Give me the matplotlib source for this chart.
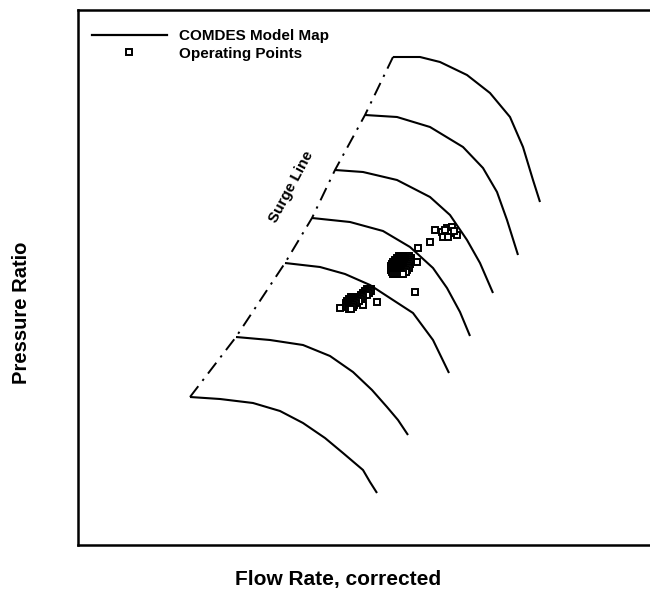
import matplotlib
matplotlib.use("Agg")
import matplotlib.pyplot as plt
from matplotlib.lines import Line2D

plt.rcParams["font.family"] = ["Liberation Sans", "DejaVu Sans"]
plt.rcParams["font.weight"] = "bold"

# speed lines of the compressor map (corrected flow, pressure ratio), arbitrary units
speed_1_flow = [190, 220, 253, 280, 303, 325, 343, 363, 370, 377]
speed_1_pr = [198, 196, 192, 184, 172, 157, 142, 125, 113, 102]
speed_2_flow = [236, 270, 303, 330, 353, 372, 387, 398, 408]
speed_2_pr = [258, 255, 250, 239, 223, 205, 188, 175, 160]
speed_3_flow = [285, 320, 345, 370, 393, 413, 433, 449]
speed_3_pr = [332, 328, 321, 310, 295, 282, 255, 222]
speed_4_flow = [312, 350, 383, 410, 433, 447, 460, 470]
speed_4_pr = [377, 373, 364, 348, 327, 307, 283, 259]
speed_5_flow = [335, 363, 397, 430, 450, 467, 480, 493]
speed_5_pr = [425, 423, 415, 398, 380, 355, 332, 302]
speed_6_flow = [365, 397, 430, 463, 483, 497, 507, 518]
speed_6_pr = [480, 478, 468, 448, 427, 403, 375, 340]
speed_7_flow = [393, 420, 440, 467, 490, 510, 523, 533, 540]
speed_7_pr = [538, 538, 533, 520, 502, 478, 448, 415, 393]

speed_lines = [
    (speed_1_flow, speed_1_pr),
    (speed_2_flow, speed_2_pr),
    (speed_3_flow, speed_3_pr),
    (speed_4_flow, speed_4_pr),
    (speed_5_flow, speed_5_pr),
    (speed_6_flow, speed_6_pr),
    (speed_7_flow, speed_7_pr),
]

# operating points: loose ones, plus the dense runs that overlap into solid patches
op_low_flow = [340, 363, 377]
op_low_pr = [287, 290, 293]
op_low_rows = [
    (306, [367, 369, 371]),
    (304, [365, 367, 369, 371]),
    (302, [363, 365, 367, 369]),
    (300, [361, 363, 365, 367]),
    (298, [351, 353, 355, 357, 359, 361, 363]),
    (296, [349, 351, 353, 355, 357, 359, 361]),
    (294, [347, 349, 351, 353, 355, 357, 359]),
    (292, [346, 348, 350, 352, 354, 356]),
    (290, [346, 348, 350, 352, 354]),
    (288, [347, 349, 351, 353]),
    (286, [349, 351]),
]

op_mid_flow = [418, 417, 415]
op_mid_pr = [347, 333, 303]
op_mid_rows = [
    (339, [399, 401, 403, 405, 407, 409]),
    (337, [397, 399, 401, 403, 405, 407, 409, 411]),
    (335, [395, 397, 399, 401, 403, 405, 407, 409, 411]),
    (333, [393, 395, 397, 399, 401, 403, 405, 407, 409, 411]),
    (331, [392, 394, 396, 398, 400, 402, 404, 406, 408, 410]),
    (329, [391, 393, 395, 397, 399, 401, 403, 405, 407, 409]),
    (327, [391, 393, 395, 397, 399, 401, 403, 405, 407, 409]),
    (325, [391, 393, 395, 397, 399, 401, 403, 405, 407]),
    (323, [392, 394, 396, 398, 400, 402, 404, 406]),
    (321, [393, 395, 397, 399, 401, 403]),
]

op_high_flow = [430, 435, 442, 447, 450, 457, 452, 443, 448, 445, 454]
op_high_pr = [353, 365, 363, 367, 362, 360, 368, 358, 358, 365, 364]

for pr, flows in op_low_rows:
    op_low_flow += flows
    op_low_pr += [pr] * len(flows)
for pr, flows in op_mid_rows:
    op_mid_flow += flows
    op_mid_pr += [pr] * len(flows)

fig = plt.figure(figsize=(6.5, 5.95), dpi=100)
ax = fig.add_axes([78 / 650, 50 / 595, 580 / 650, 535 / 595])
ax.set_xlim(78, 658)
ax.set_ylim(50, 585)

for flow, pr in speed_lines:
    ax.plot(flow, pr, color="black", lw=1.5, solid_capstyle="butt")

# surge line joins the left end of every speed line
surge_flow = [f[0] for f, p in speed_lines]
surge_pr = [p[0] for f, p in speed_lines]
ax.plot(surge_flow, surge_pr, color="black", lw=1.4, dashes=(7, 3.5, 1.2, 3.5))

ax.text(291, 408, "Surge Line", rotation=62, ha="center", va="center",
        fontsize=11, fontweight="bold")

for flow, pr in [(op_low_flow, op_low_pr), (op_mid_flow, op_mid_pr),
                 (op_high_flow, op_high_pr)]:
    ax.plot(flow, pr, ls="none", marker="s", ms=4.6, mew=1.4,
            mfc="white", mec="black")

handles = [
    Line2D([], [], color="black", lw=1.6),
    Line2D([], [], ls="none", marker="s", ms=4.6, mew=1.4, mfc="white", mec="black"),
]
ax.legend(handles, ["COMDES Model Map", "Operating Points"], loc="upper left",
          bbox_to_anchor=(92 / 650, 1 - 29 / 595), bbox_transform=fig.transFigure,
          frameon=False, borderpad=0, borderaxespad=0, handlelength=4.9,
          handletextpad=0.8, labelspacing=0.25,
          prop={"size": 11, "weight": "bold"})

ax.set_xticks([])
ax.set_yticks([])
for side in ["left", "top", "bottom"]:
    ax.spines[side].set_linewidth(1.8)
ax.spines["right"].set_visible(False)

fig.text(338 / 650, 1 - 580 / 595, "Flow Rate, corrected", ha="center", va="center",
         fontsize=15, fontweight="bold")
fig.text(22 / 650, 1 - 313 / 595, "Pressure Ratio", ha="center", va="center",
         rotation=90, fontsize=14.5, fontweight="bold")

fig.savefig("out.png", dpi=100)
